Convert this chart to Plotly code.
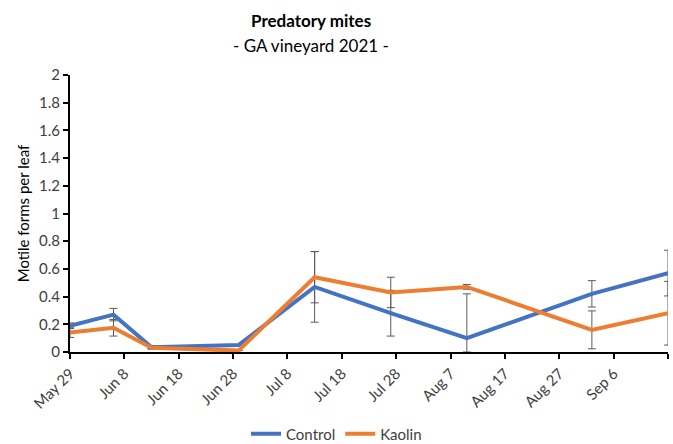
import plotly.graph_objects as go

# Sampling dates and mean motile predatory mites per leaf (± SE)
dates = ["2021-05-29", "2021-06-06", "2021-06-13", "2021-06-29", "2021-07-13",
         "2021-07-27", "2021-08-10", "2021-09-02", "2021-09-16"]
control = [0.19, 0.27, 0.035, 0.05, 0.47, 0.28, 0.10, 0.42, 0.57]
kaolin = [0.14, 0.175, 0.03, 0.01, 0.54, 0.43, 0.47, 0.16, 0.28]
control_se = [0.02, 0.045, 0.01, 0.0, 0.255, 0.165, 0.32, 0.095, 0.165]
kaolin_se = [0.035, 0.06, 0.01, 0.0, 0.185, 0.11, 0.017, 0.137, 0.23]

tick_dates = ["2021-05-29", "2021-06-08", "2021-06-18", "2021-06-28", "2021-07-08",
              "2021-07-18", "2021-07-28", "2021-08-07", "2021-08-17", "2021-08-27",
              "2021-09-06", "2021-09-16"]
tick_labels = ["May 29", "Jun 8", "Jun 18", "Jun 28", "Jul 8", "Jul 18", "Jul 28",
               "Aug 7", "Aug 17", "Aug 27", "Sep 6", ""]
y_ticks = [0, 0.2, 0.4, 0.6, 0.8, 1, 1.2, 1.4, 1.6, 1.8, 2]

series = [("Control", control, control_se, "#4472C4"),
          ("Kaolin", kaolin, kaolin_se, "#ED7D31")]

FONT = "Lato"
W, H = 673, 444
fig = go.Figure()

# error bars first so the lines sit on top of them; lower arm stops at the axis
for name, vals, se, color in series:
    fig.add_trace(go.Scatter(
        x=dates, y=vals, mode="markers",
        marker=dict(size=1, opacity=0),
        error_y=dict(type="data", array=se,
                     arrayminus=[min(s, v) for s, v in zip(se, vals)],
                     color="#5a5a5a", thickness=1, width=4),
        showlegend=False, hoverinfo="skip", cliponaxis=False,
    ))

for name, vals, se, color in series:
    fig.add_trace(go.Scatter(
        x=dates, y=vals, mode="lines", name=name,
        line=dict(color=color, width=4),
        cliponaxis=False,
    ))

fig.update_layout(
    width=W, height=H,
    margin=dict(l=70, r=5, t=75, b=92, autoexpand=False),
    paper_bgcolor="white", plot_bgcolor="white",
    font=dict(family=FONT, color="#404040", size=14),
    showlegend=True,
    legend=dict(orientation="h", x=0.5, xanchor="center", xref="container",
                y=1 - 434 / H, yanchor="middle", yref="container",
                font=dict(size=15, color="#404040"), itemwidth=30,
                tracegroupgap=0),
    annotations=[
        dict(text="<b>Predatory mites</b>", xref="paper", yref="paper",
             x=(311 - 70) / (W - 75), y=1, yshift=55, showarrow=False,
             font=dict(size=17, color="#000000", family=FONT),
             xanchor="center", yanchor="middle"),
        dict(text="- GA vineyard 2021 -", xref="paper", yref="paper",
             x=(311 - 70) / (W - 75), y=1, yshift=30, showarrow=False,
             font=dict(size=17, color="#000000", family=FONT),
             xanchor="center", yanchor="middle"),
    ],
)

fig.update_xaxes(
    type="date", range=["2021-05-29", "2021-09-16"], automargin=False,
    tickvals=tick_dates, ticktext=tick_labels, tickangle=-45,
    showgrid=False, zeroline=False,
    showline=True, linecolor="#000000", linewidth=2,
    ticks="outside", ticklen=5, tickwidth=1.5, tickcolor="#000000",
    tickfont=dict(size=15, color="#404040"),
)
fig.update_yaxes(
    range=[0, 2], tickvals=y_ticks, automargin=False,
    showgrid=False, zeroline=False,
    showline=True, linecolor="#000000", linewidth=2,
    ticks="outside", ticklen=5, tickwidth=1.5, tickcolor="#000000",
    tickfont=dict(size=15, color="#404040"),
    title=dict(text="Motile forms per leaf", font=dict(size=15, color="#000000"), standoff=6),
)

fig.write_html("out.html")
